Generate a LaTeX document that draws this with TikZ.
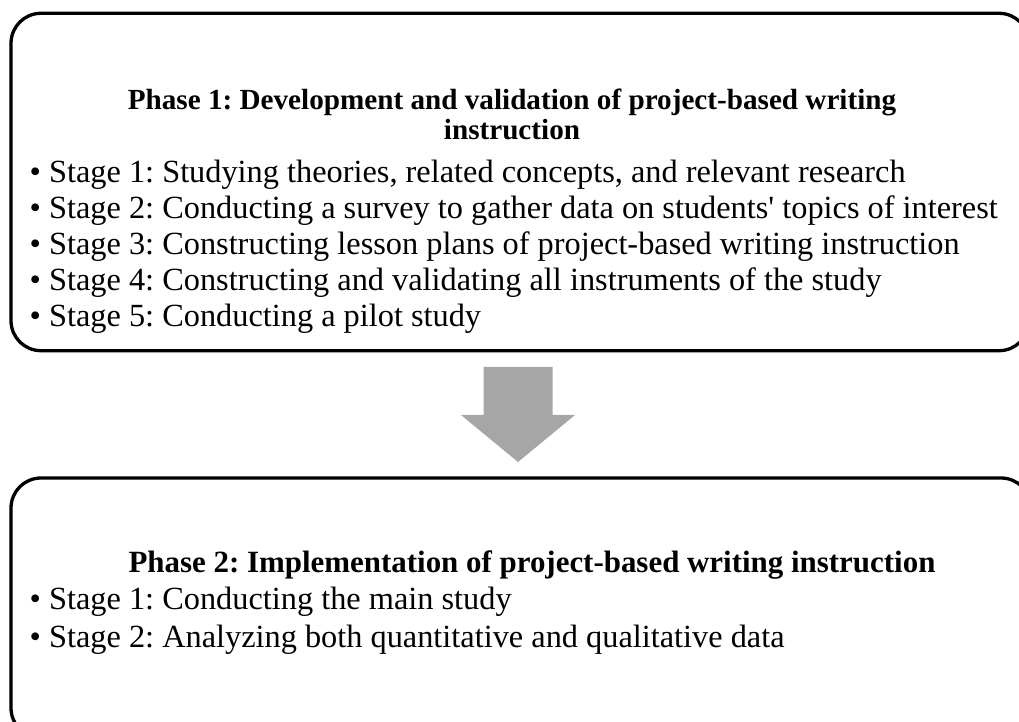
\documentclass[tikz,border=0pt]{standalone}
\usepackage{fontspec}
\setmainfont{Liberation Serif}
\usepackage{tikz}
\definecolor{arrow_gray}{HTML}{A6A6A6}

\begin{document}
\frenchspacing
\begin{tikzpicture}[x=0.1mm, y=-0.1mm,
    phasebox/.style={draw, line width=0.33mm, rounded corners=3mm, inner sep=0pt},
    phasetitle/.style={font=\bfseries, align=center, inner sep=0pt, anchor=base},
    stageline/.style={font=\fontsize{9.2}{10}\selectfont, anchor=base west, inner sep=0pt}]
    \useasboundingbox (0,0) rectangle (1019,722);
    \clip (0,0) rectangle (1019,722);

    % the two phase boxes run off the right edge
    \node[phasebox, minimum width=101.8mm, minimum height=33.74mm] (phase1) at (520,182) {};
    \node[phasebox, minimum width=102mm, minimum height=26mm] (phase2) at (521,608) {};

    % phase 1
    \node[phasetitle, font=\fontsize{8.3}{8.8}\bfseries] (title1) at (512,140)
        {Phase 1: Development and validation of project-based writing\\instruction};
    \foreach \txt [count=\i] in {%
        {Stage 1: Studying theories, related concepts, and relevant research},
        {Stage 2: Conducting a survey to gather data on students\textquotesingle{} topics of interest},
        {Stage 3: Constructing lesson plans of project-based writing instruction},
        {Stage 4: Constructing and validating all instruments of the study},
        {Stage 5: Conducting a pilot study}}
        \node[stageline] (p1s\i) at (29,183+36*\i-36) {• \txt};

    % phase 2
    \node[phasetitle, font=\fontsize{8.8}{9.5}\bfseries] (title2) at (532,572)
        {Phase 2: Implementation of project-based writing instruction};
    \foreach \txt [count=\i] in {%
        {Stage 1: Conducting the main study},
        {Stage 2: Analyzing both quantitative and qualitative data}}
        \node[stageline] (p2s\i) at (29,610+37*\i-37) {• \txt};

    % block arrow between the phases
    \coordinate (down) at (518,367);
    \fill[arrow_gray] (down) ++(-34.5,0) -- ++(69,0) -- ++(0,48) -- ++(22.5,0)
        -- ++(-57,47) -- ++(-57,-47) -- ++(22.5,0) -- cycle;
\end{tikzpicture}
\end{document}
